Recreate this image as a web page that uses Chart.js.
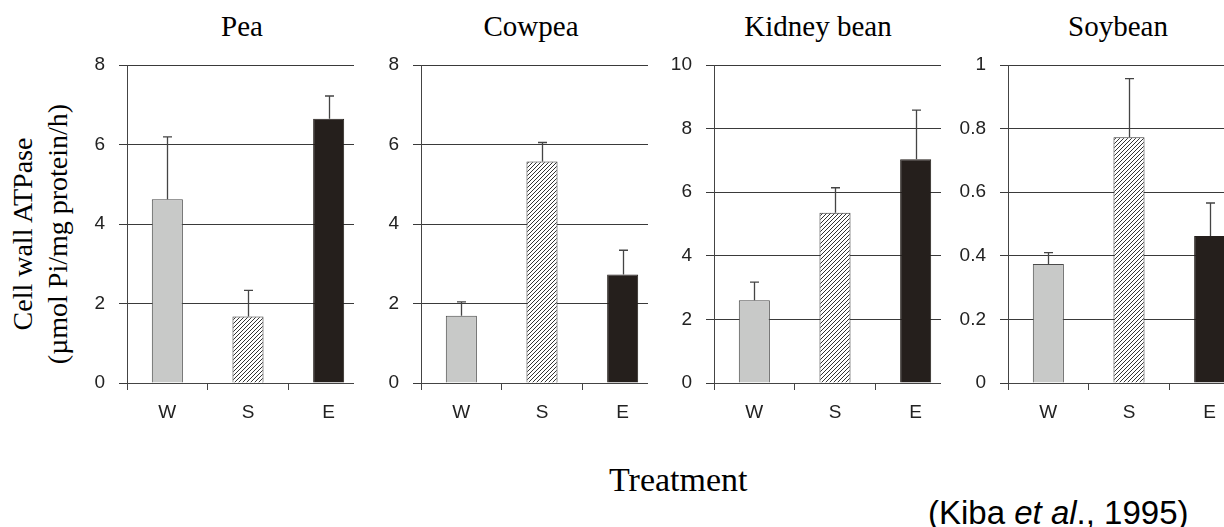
<!DOCTYPE html>
<html>
<head>
<meta charset="utf-8">
<script src="https://cdn.jsdelivr.net/npm/chart.js@4.4.1/dist/chart.umd.min.js"></script>
<style>
  body { margin: 0; background: #fff; }
  #page { position: relative; width: 1224px; height: 527px; overflow: hidden; background: #fff; }
  .panel { position: absolute; top: 0; height: 440px; overflow: hidden; }
  .panel canvas { position: absolute; left: 0; top: 0; }
  .serif { position: absolute; font-family: 'Liberation Serif', 'Times New Roman', serif; color: #000; white-space: nowrap; }
  .title { font-size: 29px; line-height: 29px; top: 12px; transform: translateX(-50%); }
  #ytitle { left: -160px; top: 199px; width: 400px; height: 70px; font-size: 28px; line-height: 35px; text-align: center; transform: rotate(-90deg); }
  #xtitle { left: 609px; top: 463px; font-size: 34px; line-height: 34px; }
  #cite { position: absolute; left: 928px; top: 496px; font-family: 'Liberation Sans', Arial, sans-serif; font-size: 33px; line-height: 33px; white-space: nowrap; color: #000; }
</style>
</head>
<body>
<div id="page">
  <div class="serif title" style="left:242px">Pea</div>
  <div class="serif title" style="left:531px">Cowpea</div>
  <div class="serif title" style="left:818px">Kidney bean</div>
  <div class="serif title" style="left:1118px">Soybean</div>
  <div class="serif" id="ytitle">Cell wall ATPase<br>(µmol Pi/mg protein/h)</div>
  <div class="serif" id="xtitle">Treatment</div>
  <div id="cite">(Kiba <i>et al</i>., 1995)</div>

  <div class="panel" style="left:57px;width:297px"><canvas id="c0" width="312" height="440"></canvas></div>
  <div class="panel" style="left:351px;width:297px"><canvas id="c1" width="312" height="440"></canvas></div>
  <div class="panel" style="left:644px;width:297px"><canvas id="c2" width="312" height="440"></canvas></div>
  <div class="panel" style="left:938px;width:312px"><canvas id="c3" width="312" height="440"></canvas></div>
</div>
<script>
// values (mean and upward SE)
const treatments = ['W', 'S', 'E'];

const peaMean = [4.62, 1.67, 6.65];
const peaErr = [1.57, 0.66, 0.57];

const cowpeaMean = [1.69, 5.57, 2.73];
const cowpeaErr = [0.35, 0.48, 0.61];

const kidneyMean = [2.60, 5.35, 7.04];
const kidneyErr = [0.57, 0.79, 1.54];

const soyMean = [0.374, 0.773, 0.462];
const soyErr = [0.036, 0.184, 0.104];

const yMax = [8, 8, 10, 1];
const yStep = [2, 2, 2, 0.2];

Chart.defaults.font.family = "'Liberation Sans', Arial, sans-serif";

function hatch(ctx) {
  const c = document.createElement('canvas');
  c.width = 4; c.height = 4;
  const g = c.getContext('2d');
  g.fillStyle = '#fff';
  g.fillRect(0, 0, 4, 4);
  g.strokeStyle = '#333';
  g.lineWidth = 1;
  g.beginPath();
  g.moveTo(-1, 5); g.lineTo(5, -1);
  g.moveTo(-1, 1); g.lineTo(1, -1);
  g.moveTo(3, 5); g.lineTo(5, 3);
  g.stroke();
  return ctx.createPattern(c, 'repeat');
}

const errorBars = {
  id: 'errorBars',
  afterDatasetsDraw(chart) {
    const ds = chart.data.datasets[0];
    const meta = chart.getDatasetMeta(0);
    const y = chart.scales.y;
    const ctx = chart.ctx;
    ctx.save();
    ctx.strokeStyle = '#444';
    ctx.lineWidth = 1.3;
    meta.data.forEach((bar, i) => {
      const top = y.getPixelForValue(ds.data[i] + ds.errors[i]);
      const x = Math.round(bar.x) + 0.5;
      ctx.beginPath();
      ctx.moveTo(x, bar.y);
      ctx.lineTo(x, top);
      ctx.moveTo(x - 4.5, top);
      ctx.lineTo(x + 4.5, top);
      ctx.stroke();
    });
    ctx.restore();
  }
};

function makePanel(id, means, errs, max, step) {
  const canvas = document.getElementById(id);
  const ctx = canvas.getContext('2d');
  return new Chart(ctx, {
    type: 'bar',
    data: {
      labels: treatments,
      datasets: [{
        data: means,
        errors: errs,
        backgroundColor: ['#c8c9c8', hatch(ctx), '#251f1c'],
        borderColor: ['#4a4a4a', '#333', '#251f1c'],
        borderWidth: 1,
        barPercentage: 0.385,
        categoryPercentage: 1
      }]
    },
    options: {
      responsive: false,
      animation: false,
      events: [],
      layout: { padding: { top: 65, left: 0, right: 0, bottom: 0 } },
      plugins: { legend: { display: false }, tooltip: { enabled: false } },
      scales: {
        x: {
          afterFit: (s) => { s.height = 57; },
          grid: { display: true, drawOnChartArea: false, drawTicks: true, tickLength: 7, offset: true, color: '#444' },
          border: { display: true, color: '#444', width: 1 },
          ticks: { color: '#222', font: { size: 19 }, padding: 11 }
        },
        y: {
          min: 0,
          max: max,
          afterFit: (s) => { s.width = 70; },
          grid: { color: '#3a3a3a', lineWidth: 1, tickLength: 8, drawTicks: true },
          border: { display: true, color: '#444', width: 1 },
          ticks: {
            stepSize: step, color: '#222', font: { size: 19 }, padding: 14,
            callback: (v) => String(+v.toFixed(2))
          }
        }
      }
    },
    plugins: [errorBars]
  });
}

makePanel('c0', peaMean, peaErr, yMax[0], yStep[0]);
makePanel('c1', cowpeaMean, cowpeaErr, yMax[1], yStep[1]);
makePanel('c2', kidneyMean, kidneyErr, yMax[2], yStep[2]);
makePanel('c3', soyMean, soyErr, yMax[3], yStep[3]);
</script>
</body>
</html>
